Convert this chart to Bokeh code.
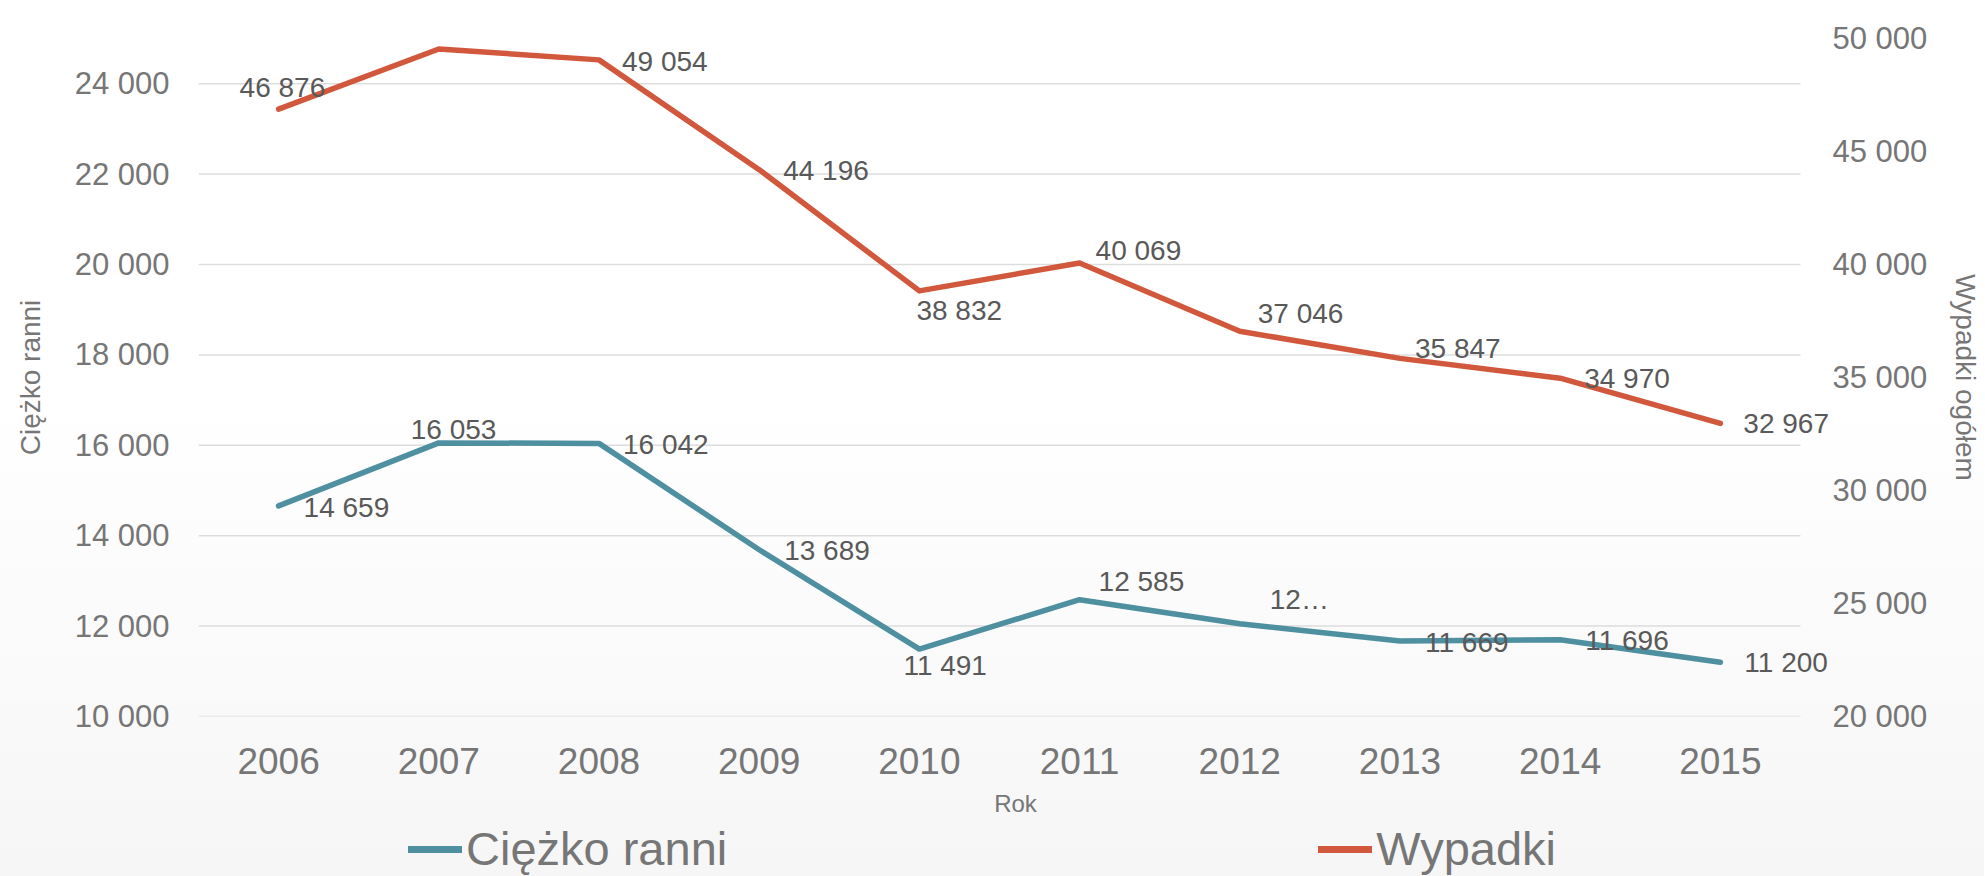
from bokeh.plotting import figure
from bokeh.layouts import column
from bokeh.models import (Range1d, LinearAxis, FixedTicker, Legend,
                          LegendItem, ColumnDataSource)
from bokeh.core.properties import value
from bokeh.embed import file_html
from bokeh.resources import INLINE

# ---------------- data ----------------
years = ["2006", "2007", "2008", "2009", "2010", "2011", "2012", "2013", "2014", "2015"]
ranni = [14659, 16053, 16042, 13689, 11491, 12585, 12050, 11669, 11696, 11200]
wypadki = [46876, 49536, 49054, 44196, 38832, 40069, 37046, 35847, 34970, 32967]
left_ticks = [10000, 12000, 14000, 16000, 18000, 20000, 22000, 24000]
right_ticks = [20000, 25000, 30000, 35000, 40000, 45000, 50000]
series_names = ["Ciężko ranni", "Wypadki"]


def fmt(v):
    return f"{v:,}".replace(",", " ")


ranni_labels = [fmt(v) for v in ranni]
ranni_labels[6] = "12…"          # truncated label as in the original
wypadki_labels = [fmt(v) for v in wypadki]

# label offsets in pixels (style only)
w_dx = [-39, -27, 23, 24, -3, 16, 18, 15, 24, 23]
w_dy = [-22, -24, 2, 1, 20, -12, -18, -10, 0, 0]
r_dx = [25, -28, 24, 25, -16, 19, 30, 25, 25, 24]
r_dy = [2, -13, 1, 1, 16, -18, -24, 1, 1, 0]

FONT = "Liberation Sans"
TEAL = "#4e8fa0"
ORANGE = "#d1583c"
TICK_COLOR = "#767676"
LABEL_COLOR = "#595959"

xs = list(range(len(years)))          # category index positions
n = len(years)

p = figure(x_range=Range1d(-0.5, n - 0.3), y_range=Range1d(10000, 25000),
           width=1984, height=822, output_backend="svg", toolbar_location=None,
           min_border_left=198, min_border_right=150, min_border_top=38,
           min_border_bottom=106)
p.extra_y_ranges = {"right": Range1d(20000, 50000)}

p.border_fill_color = None
p.background_fill_color = None
p.outline_line_color = None

# horizontal gridlines spanning the category band only
p.xgrid.grid_line_color = None
p.ygrid.grid_line_color = None
p.segment(x0=[-0.5] * len(left_ticks), x1=[n - 0.5] * len(left_ticks),
          y0=left_ticks, y1=left_ticks, line_color="#dddddd", line_width=1.5)

# lines
r1 = p.line(xs, ranni, line_color=TEAL, line_width=5.5, line_cap="round", line_join="round")
r2 = p.line(xs, wypadki, line_color=ORANGE, line_width=5.5, line_cap="round",
            line_join="round", y_range_name="right")

# data labels
src_r = ColumnDataSource(dict(x=xs, y=ranni, t=ranni_labels, dx=r_dx, dy=r_dy))
src_w = ColumnDataSource(dict(x=xs, y=wypadki, t=wypadki_labels, dx=w_dx, dy=w_dy))
for src, rng in ((src_r, "default"), (src_w, "right")):
    p.text(x="x", y="y", text="t", x_offset="dx", y_offset="dy", source=src,
           y_range_name=rng, text_font=value(FONT), text_font_size="28px",
           text_color=LABEL_COLOR, text_align="left", text_baseline="middle")


# axes
def style_axis(ax, size):
    ax.axis_line_color = None
    ax.major_tick_line_color = None
    ax.minor_tick_line_color = None
    ax.major_tick_out = 0
    ax.major_tick_in = 0
    ax.major_label_text_font = FONT
    ax.major_label_text_font_size = size
    ax.major_label_text_color = TICK_COLOR
    ax.axis_label_text_font = FONT
    ax.axis_label_text_font_size = "28px"
    ax.axis_label_text_font_style = "normal"
    ax.axis_label_text_color = TICK_COLOR


xa = p.xaxis[0]
style_axis(xa, "37px")
xa.ticker = FixedTicker(ticks=xs)
xa.major_label_overrides = {i: y for i, y in zip(xs, years)}
xa.axis_label = "Rok"
xa.axis_label_text_font_size = "24px"
xa.major_label_standoff = 31
xa.axis_label_standoff = 13

ya = p.yaxis[0]
style_axis(ya, "31px")
ya.ticker = FixedTicker(ticks=left_ticks)
ya.major_label_overrides = {t: fmt(t) for t in left_ticks}
ya.axis_label = series_names[0]
ya.major_label_standoff = 29
ya.axis_label_standoff = 26

ra = LinearAxis(y_range_name="right", ticker=FixedTicker(ticks=right_ticks))
style_axis(ra, "31px")
ra.major_label_overrides = {t: fmt(t) for t in right_ticks}
ra.axis_label = "Wypadki ogółem"
ra.major_label_standoff = 0
ra.axis_label_standoff = 20
p.add_layout(ra, "right")

# ---------------- legend strip ----------------
lg = figure(width=1984, height=54, output_backend="svg", toolbar_location=None,
            x_range=Range1d(0, 1), y_range=Range1d(0, 1),
            min_border_left=0, min_border_right=0, min_border_top=0, min_border_bottom=0)
lg.axis.visible = False
lg.grid.grid_line_color = None
lg.outline_line_color = None
lg.border_fill_color = None
lg.background_fill_color = None
# legend-only renderers, their data lies outside the visible range
d1 = lg.line(x=[-10, -9], y=[-10, -10], line_color=TEAL, line_width=7, line_cap="round")
d2 = lg.line(x=[-10, -9], y=[-10, -10], line_color=ORANGE, line_width=7, line_cap="round")

legend = Legend(items=[LegendItem(label=series_names[0], renderers=[d1]),
                       LegendItem(label=series_names[1], renderers=[d2])],
                orientation="horizontal", location=(210, 0), spacing=591,
                glyph_width=54, glyph_height=30, label_standoff=4, padding=0, margin=0,
                border_line_color=None, background_fill_alpha=0,
                label_text_font=FONT, label_text_font_size="47px",
                label_text_color=TICK_COLOR)
lg.add_layout(legend)

layout = column(p, lg, spacing=0)
layout.styles = {"background": "linear-gradient(to bottom, #ffffff 0%, #ffffff 45%, #f6f6f6 100%)"}

open("out.html", "w").write(file_html(layout, INLINE))
